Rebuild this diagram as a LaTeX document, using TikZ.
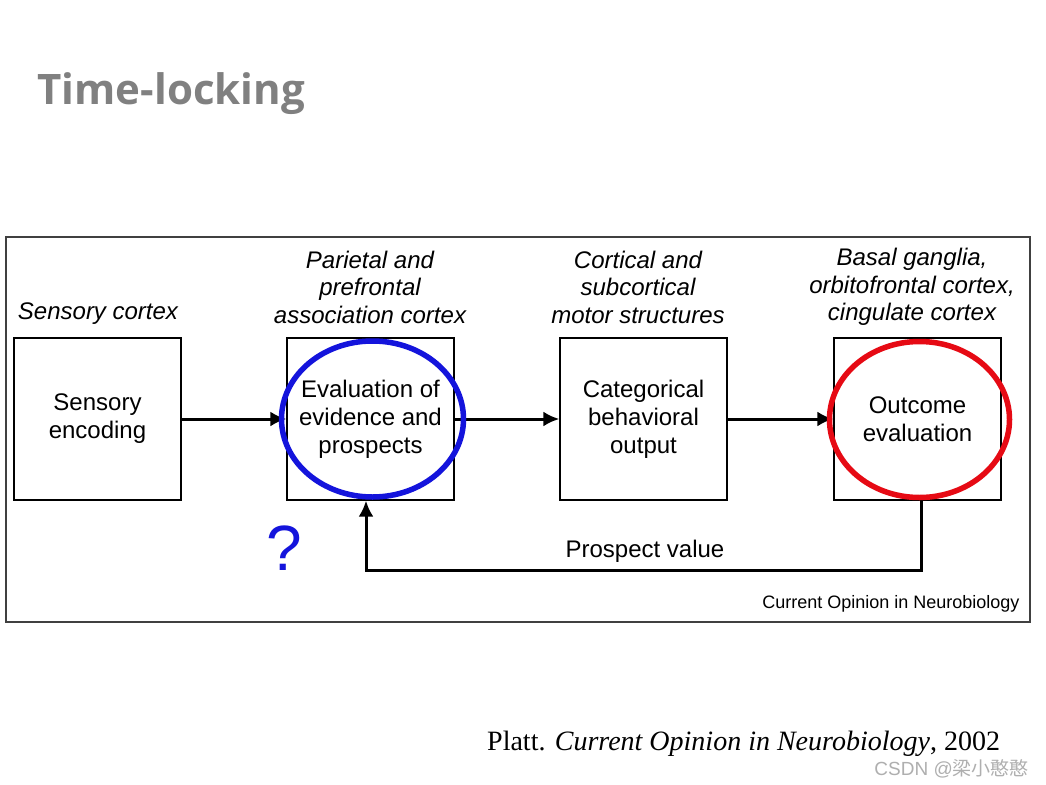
\documentclass[tikz,border=0pt]{standalone}
\usepackage{fontspec}
\setmainfont{Liberation Serif}
\setsansfont{Liberation Sans}
\newfontfamily\titlefont{Open Sans}
\newfontfamily\cjk{Noto Sans CJK SC}
\usetikzlibrary{arrows.meta}
\definecolor{titlegray}{RGB}{128,128,128}
\definecolor{ringblue}{RGB}{20,20,220}
\definecolor{ringred}{RGB}{230,10,20}
\definecolor{wmgray}{RGB}{175,175,175}
\tikzset{
  stage/.style={draw=black, line width=1.3pt, minimum width=167pt, minimum height=162pt, inner sep=0pt, align=center, font=\sffamily\fontsize{24}{28}\selectfont},
  region/.style={align=center, font=\sffamily\itshape\fontsize{24}{27.5}\selectfont},
  flow/.style={line width=3pt, -{Latex[length=16pt,width=15pt]}},
  ring/.style={draw, line width=5.5pt},
}
\begin{document}
\begin{tikzpicture}[x=1pt,y=-1pt]
\useasboundingbox (0,0) rectangle (1046,784);
\fill[white] (0,0) rectangle (1046,784);
\node[anchor=west, text=titlegray, font=\titlefont\bfseries\fontsize{42}{48}\selectfont] (title) at (34,94) {Time-locking};
\draw[line width=1.5pt, draw=black!75] (6,237) rectangle (1030,622);
\node[stage] (s1) at (97.5,419) {Sensory\\encoding};
\node[stage] (s2) at (370.5,419) {Evaluation of\\evidence and\\prospects};
\node[stage] (s3) at (643.5,419) {Categorical\\behavioral\\output};
\node[stage] (s4) at (917.5,419) {Outcome\\evaluation};
\node[region] (r1) at (98,314) {Sensory cortex};
\node[region] (r2) at (370,287) {Parietal and\\prefrontal\\association cortex};
\node[region] (r3) at (638,287) {Cortical and\\subcortical\\motor structures};
\node[region] (r4) at (912,287) {Basal ganglia,\\orbitofrontal cortex,\\cingulate cortex};
\draw[flow] (s1.east) -- (s2.west);
\draw[flow] (s2.east) -- (s3.west);
\draw[flow] (s3.east) -- (s4.west);
\coordinate (c1) at (921,570);
\coordinate (c2) at (366,570);
\draw[flow] (s4.south -| c1) -- (c1) -- (c2) -- (s2.south -| c2);
\node[font=\sffamily\fontsize{24}{26}\selectfont] (pv) at (645,551) {Prospect value};
\draw[ring, ringblue] (372.5,419) ellipse [x radius=91pt, y radius=78pt];
\draw[ring, ringred] (919.5,419.5) ellipse [x radius=90pt, y radius=78pt];
\node[text=ringblue, font=\sffamily\fontsize{64}{66}\selectfont] (q) at (284,548) {?};
\node[anchor=east, font=\sffamily\fontsize{18}{20}\selectfont] (src) at (1023,604) {Current Opinion in Neurobiology};
\node[anchor=west, font=\fontsize{28}{32}\selectfont, inner sep=1pt] (cite) at (486,744) {Platt. \textit{Current Opinion in Neurobiology}, 2002};
\node[anchor=east, text=wmgray, font=\sffamily\fontsize{19}{21}\selectfont, inner sep=1pt] (wm) at (1030,769) {CSDN @{\cjk 梁小憨憨}};
\end{tikzpicture}
\end{document}
